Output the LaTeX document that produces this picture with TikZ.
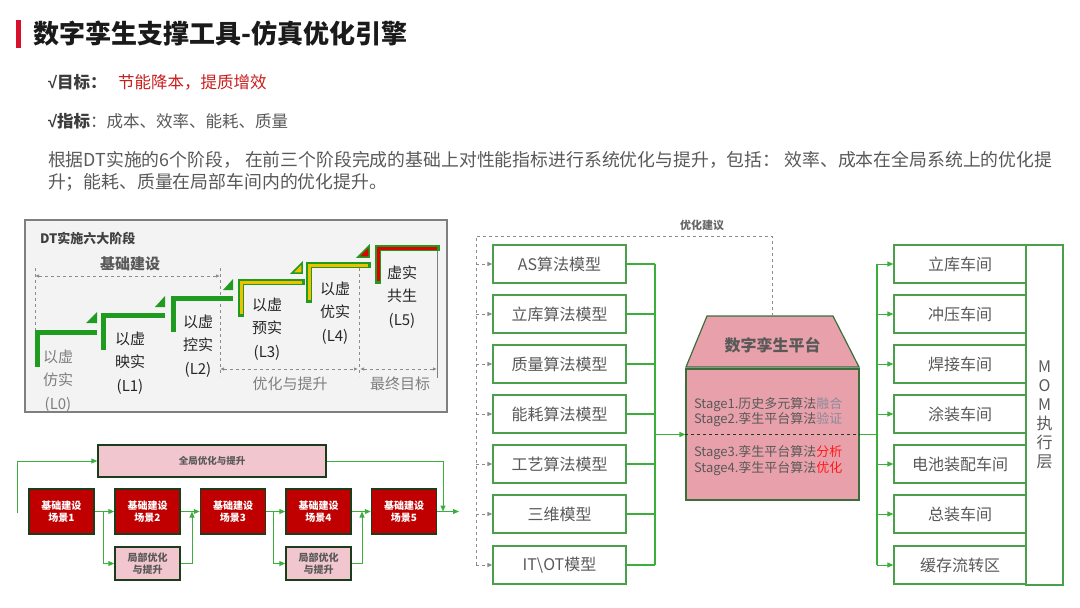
\documentclass[tikz,border=0pt]{standalone}
\usepackage{fontspec}
\setmainfont{Noto Sans CJK SC}
\newfontfamily\symfont{Liberation Sans}
\usetikzlibrary{arrows.meta}
\definecolor{titlered}{HTML}{D9102B}
\definecolor{titletxt}{HTML}{1A1A1A}
\definecolor{goalred}{HTML}{C81E1E}
\definecolor{bodygray}{HTML}{595959}
\definecolor{panelfill}{HTML}{F3F3F3}
\definecolor{panelline}{HTML}{7F7F7F}
\definecolor{stepgreen}{HTML}{1F9B1F}
\definecolor{stepyellow}{HTML}{F0C000}
\definecolor{stepred}{HTML}{E00000}
\definecolor{linegreen}{HTML}{3CAE3C}
\definecolor{boxgreen}{HTML}{4AA04A}
\definecolor{darkline}{HTML}{1C3D1C}
\definecolor{scenered}{HTML}{C00000}
\definecolor{pinkbox}{HTML}{F2C6CF}
\definecolor{platpink}{HTML}{E8A1AB}
\definecolor{platline}{HTML}{3A6E3A}
\definecolor{dashgray}{HTML}{8C8C8C}
\definecolor{lightgray}{HTML}{8A8A9A}
\definecolor{hotred}{HTML}{FF1A1A}
\begin{document}
\begin{tikzpicture}[x=1pt,y=-1pt,
  tx/.style={inner sep=0pt, outer sep=0pt},
  mbox/.style={draw=boxgreen, line width=1.2pt, fill=white, minimum width=133pt, minimum height=38pt, inner sep=0pt, font=\fontsize{16}{18}\selectfont, text=bodygray},
  wbox/.style={mbox, minimum width=132pt},
  scene/.style={draw=darkline, line width=1.5pt, fill=scenered, minimum width=65pt, minimum height=45pt, inner sep=0pt, text=white, font=\bfseries\fontsize{10}{12.5}\selectfont, align=center},
  localbox/.style={draw=darkline, line width=1.5pt, fill=pinkbox, minimum width=65pt, minimum height=33pt, inner sep=0pt, text=bodygray, font=\bfseries\fontsize{10}{12.5}\selectfont, align=center},
  garrow/.style={draw=linegreen, line width=1pt, -{Triangle[length=6pt,width=5pt]}},
  gline/.style={draw=linegreen, line width=1.2pt},
  dasharrow/.style={draw=dashgray, line width=1pt, dashed, -{Triangle[length=5pt,width=4pt]}},
  dline/.style={draw=dashgray, line width=1pt, dashed},
  guide/.style={draw=dashgray, line width=0.8pt, dashed},
  guidearrow/.style={guide, {Latex[length=4pt,width=3.5pt]}-{Latex[length=4pt,width=3.5pt]}},
  stepg/.style={draw=stepgreen, line width=5pt},
  stepout/.style={draw=stepgreen, line width=6.5pt, line cap=rect},
  stepin/.style={line width=3pt},
  steplabel/.style={tx, align=center, font=\fontsize{15}{23.5}\selectfont, text=black!85},
]
\useasboundingbox (0,0) rectangle (1080,608);

% ---------- title ----------
\fill[titlered] (16,20) rectangle (21,48);
\node[tx, anchor=west, font=\bfseries\fontsize{26}{30}\selectfont, text=titletxt] (title) at (34,34) {数字孪生支撑工具-仿真优化引擎};
\node[tx, anchor=west, font=\bfseries\fontsize{16.5}{19}\selectfont, text=titletxt!85] (goal) at (48,82) {{\symfont √}目标：};
\node[tx, anchor=west, font=\fontsize{16.5}{19}\selectfont, text=goalred] (goaltxt) at (118,82) {节能降本，提质增效};
\node[tx, anchor=west, font=\fontsize{16.5}{19}\selectfont, text=bodygray] (ind) at (48,121) {\textbf{\color{titletxt!85}{\symfont √}指标}：成本、效率、能耗、质量};
\node[tx, anchor=west, font=\fontsize{17.85}{20}\selectfont, text=bodygray] (para1) at (48,160) {根据DT实施的6个阶段，\ 在前三个阶段完成的基础上对性能指标进行系统优化与提升，包括：\ 效率、成本在全局系统上的优化提};
\node[tx, anchor=west, font=\fontsize{17.85}{20}\selectfont, text=bodygray] (para2) at (48,182) {升；能耗、质量在局部车间内的优化提升。};

% ---------- left panel ----------
\draw[fill=panelfill, draw=panelline, line width=1.8pt] (25,220) rectangle (447,412);
\node[tx, anchor=west, font=\bfseries\fontsize{13}{15}\selectfont, text=black!75] (dtt) at (40,238) {DT实施六大阶段};
\node[tx, font=\bfseries\fontsize{15}{17}\selectfont, text=bodygray] (jcjs) at (130,264) {基础建设};
\draw[guide] (35,268) -- (35,332);
\draw[guide] (220,268) -- (220,376);
\draw[guide] (359,268) -- (359,376);
\draw[guidearrow] (35,276) -- (220,276);
\draw[guidearrow] (220,369) -- (358,369);
\draw[guidearrow] (360,369) -- (437,369);
\draw[panelline, line width=1pt] (437,250) -- (437,378);
\node[tx, font=\fontsize{15}{17}\selectfont, text=panelline] (yhts) at (290,384) {优化与提升};
\node[tx, font=\fontsize{15}{17}\selectfont, text=panelline] (zzmb) at (400,384) {最终目标};

% steps
\draw[stepg] (37,367) |- (97,332);
\fill[stepgreen] (86,323) -- (97,323) -- (97,312) -- cycle;
\draw[stepg] (103,350) |- (165,315);
\fill[stepgreen] (155,307) -- (165,307) -- (165,296) -- cycle;
\draw[stepg] (173,332) |- (233,298);
\fill[stepgreen] (223,290) -- (233,290) -- (233,279) -- cycle;
\draw[stepout] (241,314) |- (302,282);
\draw[stepin, stepyellow] (241,314) |- (302,282);
\filldraw[draw=stepgreen, fill=stepyellow, line width=1.5pt] (292,273) -- (302,273) -- (302,263) -- cycle;
\draw[stepout] (309,300) |- (368,265);
\draw[stepin, stepyellow] (309,300) |- (368,265);
\filldraw[draw=stepgreen, fill=stepred, line width=1.5pt] (358,257) -- (369,257) -- (369,246) -- cycle;
\draw[stepout] (378,281) |- (437,248);
\draw[stepin, stepred] (378,281) |- (437,248);

\node[steplabel, text=panelline] (lab0) at (58,381) {以虚\\仿实\\(L0)};
\node[steplabel] (lab1) at (130,363) {以虚\\映实\\(L1)};
\node[steplabel] (lab2) at (198,346) {以虚\\控实\\(L2)};
\node[steplabel] (lab3) at (267,329) {以虚\\预实\\(L3)};
\node[steplabel] (lab4) at (335,313) {以虚\\优实\\(L4)};
\node[steplabel] (lab5) at (402,297) {虚实\\共生\\(L5)};

% ---------- bottom flow ----------
\node[localbox, minimum width=228pt, minimum height=32pt, font=\bfseries\fontsize{9.5}{11}\selectfont] (glob) at (212,461) {全局优化与提升};
\node[scene] (s1) at (61.5,511.5) {基础建设\\场景1};
\node[scene] (s2) at (147.5,511.5) {基础建设\\场景2};
\node[scene] (s3) at (233,511.5) {基础建设\\场景3};
\node[scene] (s4) at (318.5,511.5) {基础建设\\场景4};
\node[scene] (s5) at (404,511.5) {基础建设\\场景5};
\node[localbox] (l1) at (147.5,563.5) {局部优化\\与提升};
\node[localbox] (l2) at (318.5,563.5) {局部优化\\与提升};
\coordinate (start) at (17,513);
\coordinate (gend) at (443,511.5);
\coordinate (fin) at (459,511.5);
\coordinate (b1) at (103,511.5);
\coordinate (j1) at (192,511.5);
\coordinate (b2) at (273,511.5);
\coordinate (j2) at (362,511.5);
\draw[garrow] (start) |- (glob.west);
\draw[garrow] (glob.east) -| (gend);
\draw[garrow] (s5.east) -- (fin);
\draw[garrow] (s1.east) -- (s2.west);
\draw[garrow] (s2.east) -- (s3.west);
\draw[garrow] (s3.east) -- (s4.west);
\draw[garrow] (s4.east) -- (s5.west);
\draw[garrow] (b1) |- (l1.west);
\draw[garrow] (l1.east) -| (j1);
\draw[garrow] (b2) |- (l2.west);
\draw[garrow] (l2.east) -| (j2);

% ---------- models ----------
\node[mbox] (m1) at (559.5,264) {AS算法模型};
\node[mbox] (m2) at (559.5,314) {立库算法模型};
\node[mbox] (m3) at (559.5,364) {质量算法模型};
\node[mbox] (m4) at (559.5,414) {能耗算法模型};
\node[mbox] (m5) at (559.5,464) {工艺算法模型};
\node[mbox] (m6) at (559.5,514) {三维模型};
\node[mbox] (m7) at (559.5,565) {IT\textbackslash OT模型};

% platform
\draw[draw=platline, fill=platpink, line width=1.2pt] (707,316) -- (833,316) -- (859,367) -- (686,367) -- cycle;
\coordinate (ptop) at (772,316);
\node[tx, font=\bfseries\fontsize{16}{18}\selectfont, text=black!65] (plattitle) at (772.5,345) {数字孪生平台};
\node[draw=platline, fill=platpink, line width=1.2pt, minimum width=173pt, minimum height=131pt, inner sep=0pt] (plat) at (772.5,434.5) {};
\draw[dashed, draw=darkline, line width=1pt] (plat.west) -- (plat.east);
\begin{scope}[every node/.style={tx, anchor=west, font=\fontsize{13}{15}\selectfont, text=bodygray}]
\node (st1) at (694,405) {Stage1.历史多元算法\textcolor{lightgray}{融合}};
\node (st2) at (694,420) {Stage2.孪生平台算法\textcolor{lightgray}{验证}};
\node (st3) at (694,453) {Stage3.孪生平台算法\textcolor{hotred}{分析}};
\node (st4) at (694,469) {Stage4.孪生平台算法\textcolor{hotred}{优化}};
\end{scope}

% model bus
\coordinate (busL) at (655,264);
\foreach \i in {1,...,7} {\draw[gline] (m\i.east) -- (m\i.east -| busL);}
\draw[gline] (m1.east -| busL) -- (m7.east -| busL);
\draw[garrow, line width=1.5pt] (plat.west -| busL) -- (plat.west);

% feedback dashed
\coordinate (fbl) at (476,236);
\node[tx, font=\bfseries\fontsize{11}{13}\selectfont, text=black!60] (yhjy) at (702,225) {优化建议};
\draw[dline] (ptop) -- (ptop |- fbl) -- (fbl) -- (fbl |- m7.west);
\foreach \i in {1,...,7} {\draw[dasharrow] (m\i.west -| fbl) -- (m\i.west);}

% ---------- workshops ----------
\node[wbox] (w1) at (960,264) {立库车间};
\node[wbox] (w2) at (960,314) {冲压车间};
\node[wbox] (w3) at (960,364) {焊接车间};
\node[wbox] (w4) at (960,414) {涂装车间};
\node[wbox] (w5) at (960,464) {电池装配车间};
\node[wbox] (w6) at (960,514) {总装车间};
\node[wbox] (w7) at (960,565) {缓存流转区};
\node[draw=boxgreen, line width=1.2pt, fill=white, minimum width=37pt, minimum height=340pt, inner sep=0pt] (mom) at (1044.5,415) {};
\node[tx, align=center, font=\fontsize{16}{19}\selectfont, text=bodygray] (momtxt) at (mom.center) {M\\O\\M\\执\\行\\层};
\coordinate (busR) at (877,264);
\draw[gline, line width=1.5pt] (plat.east) -- (plat.east -| busR);
\draw[gline] (w1.west -| busR) -- (w7.west -| busR);
\foreach \i in {1,...,7} {\draw[garrow] (w\i.west -| busR) -- (w\i.west);}
\end{tikzpicture}
\end{document}
